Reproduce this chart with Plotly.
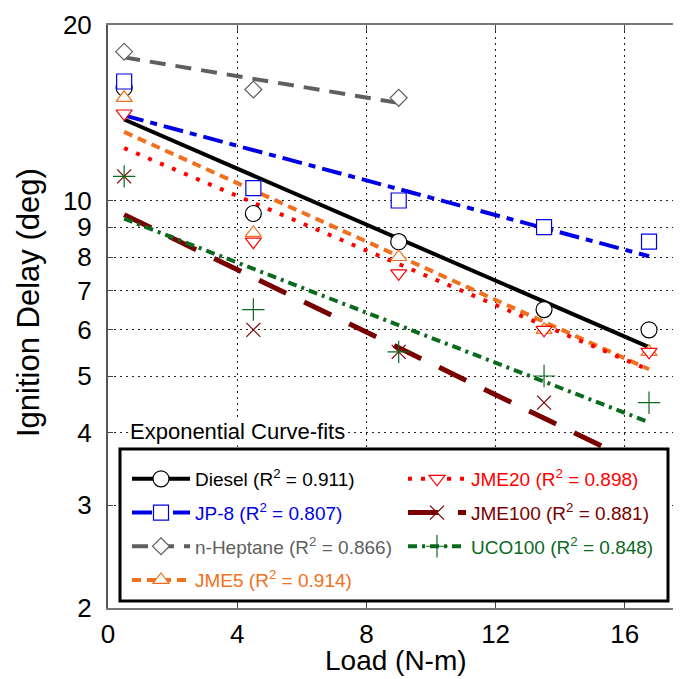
import numpy as np
import plotly.graph_objects as go

# ---------------- data ----------------
load = [0.5, 4.5, 9.0, 13.5, 16.75]
heptane_load = [0.5, 4.5, 9.0]

diesel = [15.6, 9.5, 8.5, 6.5, 6.0]
jp8 = [16.0, 10.5, 10.0, 9.0, 8.5]
heptane = [18.0, 15.5, 15.0]
jme5 = [15.0, 8.8, 8.0, 6.0, 5.5]
jme20 = [14.1, 8.5, 7.5, 6.0, 5.5]
jme100 = [11.0, 6.0, 5.5, 4.5, 3.5]
uco100 = [11.0, 6.5, 5.5, 5.0, 4.5]

names = ["Diesel", "JP-8", "n-Heptane", "JME5", "JME20", "JME100", "UCO100"]
r2_values = [0.911, 0.807, 0.866, 0.914, 0.898, 0.881, 0.848]

y_tick_vals = [2, 3, 4, 5, 6, 7, 8, 9, 10, 20]
x_tick_vals = [0, 4, 8, 12, 16]

# ---------------- styles ----------------
series = [
    # name, x, y, color, dash, width, symbol, size, legend
    ("Diesel", load, diesel, "#000000", "solid", 4, "circle", 16, "legend"),
    ("JP-8", load, jp8, "#0000E6", "20px,7px,7px,7px", 4, "square", 15, "legend"),
    ("n-Heptane", heptane_load, heptane, "#5F5F5F", "16px,10px", 4, "diamond", 13, "legend"),
    ("JME5", load, jme5, "#F0701E", "9px,6px", 4, "triangle-up", 14, "legend"),
    ("JME20", load, jme20, "#FF0000", "4px,9px", 4, "triangle-down", 14, "legend2"),
    ("JME100", load, jme100, "#7A0000", "30px,20px", 5, "x-thin", 14, "legend2"),
    ("UCO100", load, uco100, "#0B6A1E", "9px,5px,3px,5px", 4, "cross-thin", 16, "legend2"),
]

fig = go.Figure()

# exponential curve-fit lines (straight on a log axis)
for name, x, y, color, dash, width, symbol, size, lg in series:
    b, a = np.polyfit(np.array(x), np.log(np.array(y)), 1)
    xf = np.array([min(x), max(x)])
    yf = np.exp(a + b * xf)
    fig.add_trace(go.Scatter(x=xf, y=yf, mode="lines", showlegend=False,
                             line=dict(color=color, dash=dash, width=width),
                             hoverinfo="skip"))

# data markers
for name, x, y, color, dash, width, symbol, size, lg in series:
    thin = symbol in ("x-thin", "cross-thin")
    fig.add_trace(go.Scatter(
        x=x, y=y, mode="markers", showlegend=False,
        marker=dict(symbol=symbol + ("-open" if thin else ""), size=size,
                    color=color if thin else "white",
                    line=dict(color=color, width=1.2))))

# legend entries
for (name, x, y, color, dash, width, symbol, size, lg), r2 in zip(series, r2_values):
    thin = symbol in ("x-thin", "cross-thin")
    label = f'<span style="color:{color}">{name} (R<sup>2</sup> = {r2:.3f})</span>'
    fig.add_trace(go.Scatter(
        x=[None], y=[None], mode="lines+markers", name=label, legend=lg,
        legendgroup=name,
        line=dict(color=color, dash=dash, width=width),
        marker=dict(symbol=symbol + ("-open" if thin else ""), size=size,
                    color=color if thin else "white",
                    line=dict(color=color, width=1.2))))

# page offset (browser body margin) compensation
OFF = 8
PL, PT, PW, PH = 108, 25, 573, 583          # plot area in page pixels
W, H = 681 - OFF, 679 - OFF
L, T = PL - OFF, PT - OFF
R = W - L - PW
B = H - T - PH


def px(xp):
    return (xp - PL) / PW


def py(yp):
    return 1 - (yp - PT) / PH


font_family = "Liberation Sans, Arial, sans-serif"

legend_common = dict(
    bgcolor="rgba(0,0,0,0)", borderwidth=0, itemwidth=58,
    font=dict(family=font_family, size=19, color="black"),
    tracegroupgap=6, xanchor="left", yanchor="top", traceorder="grouped",
    itemclick=False, itemdoubleclick=False,
)

fig.update_layout(
    width=W, height=H,
    margin=dict(l=L, r=R, t=T, b=B),
    paper_bgcolor="white", plot_bgcolor="white",
    font=dict(family=font_family, size=26, color="black"),
    legend=dict(x=px(127), y=py(460), **legend_common),
    legend2=dict(x=px(403), y=py(460), **legend_common),
    xaxis=dict(
        range=[0, 17.74], tickvals=x_tick_vals, ticktext=[str(v) for v in x_tick_vals],
        ticks="inside", ticklen=6, tickcolor="#444", tickwidth=1,
        showline=True, linecolor="#777", linewidth=2, mirror="ticks",
        showgrid=True, gridcolor="#222", gridwidth=1, griddash="2px,4px",
        zeroline=False, ticklabelstandoff=2,
        tickfont=dict(size=26),
    ),
    yaxis=dict(
        type="log", range=[np.log10(2), np.log10(20)],
        tickvals=y_tick_vals, ticktext=[str(v) for v in y_tick_vals],
        ticks="inside", ticklen=5, tickcolor="#444", tickwidth=1,
        showline=True, linecolor="#555", linewidth=2, mirror=False,
        showgrid=True, gridcolor="#222", gridwidth=1, griddash="2px,4px",
        zeroline=False, ticklabelstandoff=9,
        tickfont=dict(size=26),
    ),
    shapes=[dict(type="rect", xref="paper", yref="paper",
                 x0=px(120), x1=px(668), y0=py(601), y1=py(449),
                 line=dict(color="black", width=3), fillcolor="white",
                 layer="above")],
    annotations=[
        dict(text="Exponential Curve-fits", xref="paper", yref="paper",
             x=px(128), y=py(431), xanchor="left", yanchor="middle",
             showarrow=False, bgcolor="white", borderpad=1,
             font=dict(size=22, color="black")),
        dict(text="Ignition Delay (deg)", xref="paper", yref="paper",
             x=px(28), y=py(303), xanchor="center", yanchor="middle",
             textangle=-90, showarrow=False,
             font=dict(size=31, color="black")),
        dict(text="Load (N-m)", xref="paper", yref="paper",
             x=px(396), y=py(660), xanchor="center", yanchor="middle",
             showarrow=False, font=dict(size=28, color="black")),
    ],
)

fig.write_html("out.html")
